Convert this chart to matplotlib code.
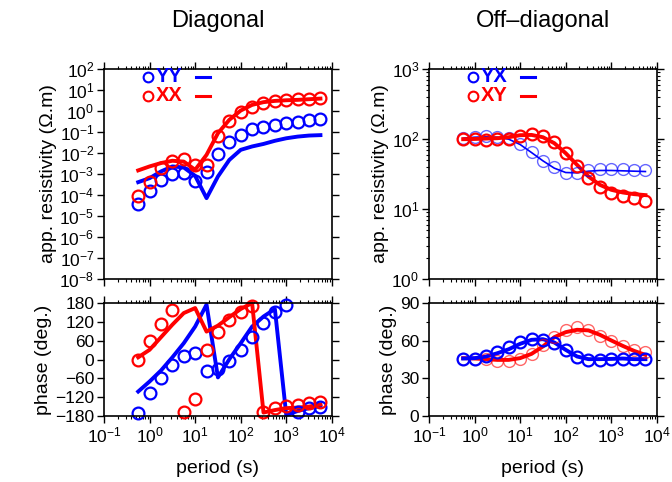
import numpy as np
import matplotlib
matplotlib.use("Agg")
import matplotlib.pyplot as plt
from matplotlib.ticker import LogLocator, NullLocator, MultipleLocator, NullFormatter
from matplotlib.lines import Line2D

plt.rcParams['font.family'] = ['Liberation Sans', 'DejaVu Sans']
plt.rcParams['mathtext.fontset'] = 'custom'
plt.rcParams['mathtext.rm'] = 'Liberation Sans'

# periods (s), 4 per decade
period = 10 ** np.arange(-0.25, 3.76, 0.25)

# diagonal: log10 app. resistivity
xx_rho_obs = [-4.04, -3.37, -2.72, -2.37, -2.29, -2.55, -2.58, -1.19, -0.46, -0.03,
              0.21, 0.37, 0.48, 0.53, 0.56, 0.59, 0.62]
yy_rho_obs = [-4.43, -3.80, -3.28, -2.99, -2.96, -3.32, -2.91, -2.07, -1.50, -1.14,
              -0.88, -0.77, -0.68, -0.58, -0.52, -0.44, -0.38]
xx_rho_mod = [-2.83, -2.64, -2.48, -2.37, -2.41, -2.80, -2.09, -1.06, -0.42, 0.02,
              0.29, 0.42, 0.48, 0.51, 0.53, 0.56, 0.59]
yy_rho_mod = [-3.39, -3.20, -2.88, -2.64, -2.69, -3.09, -4.15, -3.12, -2.33, -1.85,
              -1.69, -1.57, -1.42, -1.30, -1.22, -1.17, -1.15]

# diagonal: phase (deg.)
xx_phs_obs = [0, 60, 113, 158, -166, -127, 31, 89, 125, 153, 172, -166, -153, -148,
              -145, -140, -136]
yy_phs_obs = [-171, -107, -60, -19, 12, 20, -38, -31, -6, 29, 71, 116, 150, 175,
              -168, -155, -150]
xx_phs_mod = [7, 31, 71, 111, 148, 164, 89, 108, 135, 161, 180, -169, -161, -155,
              -153, -150, -143]
yy_phs_mod = [-102, -70, -35, 7, 52, 105, 175, -57, 1, 52, 105, 137, 161, -177,
              -164, -155, -148]

# off-diagonal: log10 app. resistivity
yx_rho_obs = [2.011, 2.025, 2.044, 2.035, 2.011, 1.925, 1.82, 1.688, 1.597, 1.521,
              1.521, 1.559, 1.569, 1.569, 1.569, 1.559, 1.55]
yx_rho_mod = [2.011, 2.025, 2.030, 2.025, 1.997, 1.921, 1.806, 1.688, 1.583, 1.521,
              1.516, 1.540, 1.550, 1.550, 1.545, 1.540, 1.535]
xy_rho_obs = [1.997, 1.997, 1.987, 1.997, 2.006, 2.049, 2.073, 2.044, 1.963, 1.806,
              1.616, 1.44, 1.312, 1.226, 1.188, 1.15, 1.117]
xy_rho_mod = [1.997, 2.0, 2.006, 2.011, 2.025, 2.054, 2.058, 2.025, 1.940, 1.797,
              1.630, 1.464, 1.345, 1.274, 1.236, 1.212, 1.198]

# off-diagonal: phase (deg.)
yx_phs_obs = [45.8, 45.3, 47.9, 51.1, 54.6, 58.8, 61.2, 60.7, 58.0, 52.2, 46.9, 44.7,
              44.7, 45.3, 45.5, 45.8, 45.3]
yx_phs_mod = [45.8, 46.1, 47.4, 50.0, 53.2, 57.5, 60.7, 61.2, 58.6, 52.7, 47.4, 45.3,
              45.3, 45.5, 45.8, 45.3, 45.3]
xy_phs_obs = [45.8, 45.3, 45.3, 44.2, 44.2, 45.3, 49.5, 56.5, 62.8, 68.2, 70.8, 68.7,
              63.9, 59.4, 55.4, 52.7, 50.6]
xy_phs_mod = [46.1, 45.8, 45.3, 44.7, 44.7, 46.1, 49.5, 55.4, 62.8, 66.8, 68.7, 68.2,
              64.7, 60.2, 55.9, 51.9, 48.7]

BLUE = '#0000ff'
RED = '#ff0000'
FS = 12.5
LFS = 14

fig = plt.figure(figsize=(6.72, 4.82), dpi=100)
W = 0.339
ax_lr = fig.add_axes([0.1548, 0.4212, W, 0.4357])
ax_lp = fig.add_axes([0.1548, 0.1369, W, 0.2344])
ax_rr = fig.add_axes([0.6384, 0.4212, W, 0.4357])
ax_rp = fig.add_axes([0.6384, 0.1369, W, 0.2344])


def style(ax, xlabels):
    ax.set_xscale('log')
    ax.set_xlim(0.1, 1e4)
    ax.xaxis.set_major_locator(LogLocator(base=10, numticks=10))
    ax.xaxis.set_minor_locator(LogLocator(base=10, subs=np.arange(2, 10), numticks=10))
    ax.xaxis.set_minor_formatter(NullFormatter())
    if not xlabels:
        # no period labels under the resistivity panels
        ax.xaxis.set_major_formatter(NullFormatter())
    ax.tick_params(which='both', direction='out', top=True, right=True, labelsize=FS, pad=2)
    ax.tick_params(which='major', length=5, width=1)
    ax.tick_params(which='minor', length=2.5, width=0.8)
    for s in ax.spines.values():
        s.set_linewidth(1.2)


def obs(ax, y, c, lw=1.6, alpha=1.0):
    ax.plot(period, y, 'o', ms=8.5, mfc='none', mec=c, mew=lw, alpha=alpha, clip_on=False)


def mod(ax, y, c, lw=2.8):
    ax.plot(period, y, '-', color=c, lw=lw, clip_on=False)


def legend(ax, names, colors):
    for i, (n, c) in enumerate(zip(names, colors)):
        y = 0.962 - i * 0.089
        ax.add_line(Line2D([0.195], [y], marker='o', ms=7, mfc='none', mec=c, mew=1.5,
                           transform=ax.transAxes))
        ax.text(0.228, y, n, color=c, fontsize=LFS + 0.5, fontweight='bold', va='center',
                ha='left', transform=ax.transAxes)
        ax.add_line(Line2D([0.405, 0.465], [y, y], color=c, lw=2.2, transform=ax.transAxes))


# diagonal resistivity
ax = ax_lr
mod(ax, 10 ** np.array(yy_rho_mod), BLUE)
mod(ax, 10 ** np.array(xx_rho_mod), RED)
obs(ax, 10 ** np.array(yy_rho_obs), BLUE)
obs(ax, 10 ** np.array(xx_rho_obs), RED)
ax.set_yscale('log')
ax.set_ylim(1e-8, 1e2)
ax.yaxis.set_major_locator(LogLocator(base=10, numticks=20))
ax.yaxis.set_minor_locator(NullLocator())
style(ax, False)
ax.set_ylabel('app. resistivity (Ω.m)', fontsize=LFS, labelpad=2)
legend(ax, ['YY', 'XX'], [BLUE, RED])
ax.set_title('Diagonal', fontsize=17, pad=30)

# diagonal phase
ax = ax_lp
mod(ax, yy_phs_mod, BLUE)
mod(ax, xx_phs_mod, RED)
obs(ax, yy_phs_obs, BLUE)
obs(ax, xx_phs_obs, RED)
ax.set_ylim(-180, 180)
ax.yaxis.set_major_locator(MultipleLocator(60))
style(ax, True)
ax.set_ylabel('phase (deg.)', fontsize=LFS, labelpad=2)
ax.set_xlabel('period (s)', fontsize=LFS, labelpad=10)

# off-diagonal resistivity
ax = ax_rr
mod(ax, 10 ** np.array(yx_rho_mod), BLUE, lw=1.2)
mod(ax, 10 ** np.array(xy_rho_mod), RED)
obs(ax, 10 ** np.array(yx_rho_obs), BLUE, lw=1.0, alpha=0.6)
obs(ax, 10 ** np.array(xy_rho_obs), RED)
ax.set_yscale('log')
ax.set_ylim(1, 1e3)
ax.yaxis.set_major_locator(LogLocator(base=10, numticks=10))
ax.yaxis.set_minor_locator(LogLocator(base=10, subs=np.arange(2, 10), numticks=10))
ax.yaxis.set_minor_formatter(NullFormatter())
style(ax, False)
ax.set_ylabel('app. resistivity (Ω.m)', fontsize=LFS, labelpad=2)
legend(ax, ['YX', 'XY'], [BLUE, RED])
ax.set_title('Off\u2013diagonal', fontsize=17, pad=30)

# off-diagonal phase
ax = ax_rp
mod(ax, xy_phs_mod, RED)
mod(ax, yx_phs_mod, BLUE)
obs(ax, xy_phs_obs, RED, lw=1.0, alpha=0.6)
obs(ax, yx_phs_obs, BLUE)
ax.set_ylim(0, 90)
ax.yaxis.set_major_locator(MultipleLocator(30))
ax.yaxis.set_minor_locator(MultipleLocator(15))
style(ax, True)
ax.set_ylabel('phase (deg.)', fontsize=LFS, labelpad=2)
ax.set_xlabel('period (s)', fontsize=LFS, labelpad=10)

fig.savefig('out.png', dpi=100)
